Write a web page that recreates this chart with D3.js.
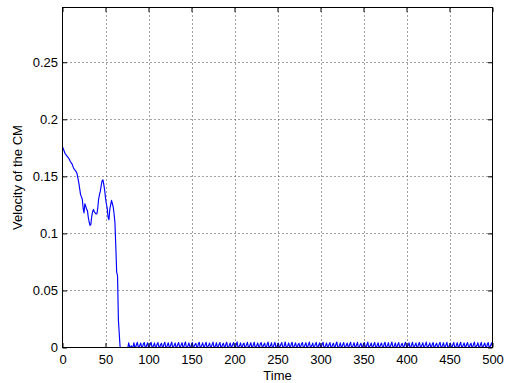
<!DOCTYPE html>
<html>
<head>
<meta charset="utf-8">
<script src="https://cdn.jsdelivr.net/npm/d3@7"></script>
<style>
  body { margin: 0; background: #fff; }
  svg { display: block; }
  text { font-family: "Liberation Sans", Arial, Helvetica, sans-serif; fill: #000; }
</style>
</head>
<body>
<svg id="chart" width="506" height="383"></svg>
<script>
// Axis ticks
const xTicks = [0, 50, 100, 150, 200, 250, 300, 350, 400, 450, 500];
const xTickLabels = ["0", "50", "100", "150", "200", "250", "300", "350", "400", "450", "500"];
const yTicks = [0, 0.05, 0.1, 0.15, 0.2, 0.25];
const yTickLabels = ["0", "0.05", "0.1", "0.15", "0.2", "0.25"];

// Sampling interval of the simulation (time units per sample)
const timeStep = 1;

// Velocity of the centre of mass, t = 0 .. 67
const startVelocity = [
  0.176, 0.174, 0.172, 0.170, 0.169, 0.168, 0.167, 0.166, 0.165, 0.163,
  0.162, 0.161, 0.159, 0.157, 0.156, 0.155, 0.154, 0.152, 0.148, 0.144,
  0.139, 0.134, 0.132, 0.130, 0.122, 0.118, 0.126, 0.124, 0.121, 0.120,
  0.114, 0.110, 0.107, 0.108, 0.115, 0.119, 0.121, 0.119, 0.118, 0.117,
  0.117, 0.122, 0.130, 0.134, 0.137, 0.142, 0.146, 0.147, 0.143, 0.138,
  0.131, 0.126, 0.122, 0.114, 0.112, 0.121, 0.125, 0.129, 0.126, 0.123,
  0.117, 0.109, 0.088, 0.066, 0.063, 0.024, 0.012, 0.000
];

// Residual velocity after settling, t = 68 .. 500, in units of 1e-3
const settledVelocityMilli = [
  0, 0, 0, 0, 0, 0, 0, 0, 0, 4.0, 0.5, 0, 1.5, 0.5, 0,
  4.2,0.4,0.1,2.6, 4.5,0.9,0.3,2.1, 3.9,0.2,0.7,3.0, 4.4,0.6,0.0,2.3, 4.1,0.3,0.5,2.7,
  4.6,0.8,0.2,1.9, 4.0,0.1,0.6,2.9, 4.3,0.5,0.0,2.4, 3.8,0.7,0.3,3.1, 4.5,0.2,0.4,2.2,
  4.1,0.6,0.1,2.8, 4.7,0.3,0.8,2.0, 3.9,0.0,0.5,2.6, 4.4,0.9,0.2,2.3, 4.2,0.4,0.6,3.0,
  4.8,0.1,0.3,1.8, 4.0,0.7,0.0,2.7, 4.3,0.2,0.9,2.5, 3.7,0.5,0.1,3.2, 4.6,0.3,0.4,2.1,
  4.1,0.8,0.2,2.9, 4.5,0.0,0.6,2.2, 3.9,0.4,0.3,2.7, 4.7,0.6,0.1,1.9, 4.2,0.2,0.7,2.6,
  4.4,0.5,0.0,2.4, 3.8,0.9,0.4,3.0, 4.6,0.1,0.2,2.0, 4.0,0.3,0.8,2.8, 4.3,0.7,0.0,2.3,
  4.9,0.2,0.5,1.7, 4.1,0.6,0.1,2.9, 3.9,0.0,0.6,2.5, 4.5,0.8,0.3,2.2, 4.2,0.4,0.0,2.7,
  4.6,0.1,0.7,2.0, 4.0,0.5,0.2,3.1, 4.4,0.9,0.4,2.4, 3.8,0.3,0.0,2.8, 4.7,0.6,0.5,1.9,
  4.2,0.0,0.3,2.6, 4.5,0.7,0.1,2.3, 3.9,0.2,0.8,2.9, 4.3,0.5,0.0,2.1, 4.8,0.4,0.6,1.8,
  4.0,0.8,0.2,3.0, 4.6,0.1,0.5,2.2, 4.1,0.6,0.0,2.7, 3.7,0.3,0.9,3.2, 4.4,0.0,0.2,2.4,
  4.2,0.5,0.4,2.5, 4.7,0.9,0.1,1.9, 3.9,0.2,0.6,2.8, 4.5,0.7,0.0,2.3, 4.1,0.3,0.5,2.9,
  4.6,0.0,0.2,2.0, 4.0,0.6,0.8,2.6, 4.3,0.4,0.1,2.4, 3.8,0.8,0.3,3.0, 4.8,0.1,0.0,1.8,
  4.1,0.5,0.7,2.7, 4.4,0.2,0.0,2.2, 3.9,0.9,0.4,2.9, 4.6,0.3,0.2,2.1, 4.2,0.6,0.5,2.5,
  4.5,0.0,0.1,2.3, 3.8,0.7,0.6,3.1, 4.3,0.4,0.0,2.6, 4.7,0.1,0.8,1.9, 4.0,0.5,0.3,2.8,
  4.4,0.8,0.2,2.2, 4.1,0.2,0.5,2.7, 3.9,0.6,0.0,3.0, 4.6,0.3,0.7,2.0, 4.2,0.0,0.4,2.4,
  4.8,0.9,0.1,1.8, 4.0,0.4,0.6,2.9, 4.3,0.1,0.0,2.5, 3.7,0.7,0.3,3.2, 4.5,0.5,0.8,2.1,
  4.1,0.2,0.0,2.6, 4.6,0.6,0.4,2.2, 3.9,0.3,0.1,2.8, 4.4,0.8,0.5,2.3, 4.2,0.0,0.7,2.7,
  4.7,0.4,0.2,1.9, 4.0,0.9,0.0,3.0, 4.3,0.1,0.6,2.4, 3.8,0.5,0.3,2.9, 4.6,0.7,0.1,2.0,
  4.2,0.3,0.8,2.5, 4.5,0.0,0.2,2.3, 3.9,0.6,0.4,2.8, 4.4,0.2,0.0,2.1, 4.1,0.8,0.5,2.7,
  4.6,0.1,0.3,2.2, 4.0,0.5,0.7,2.9, 4.3,0.9,0.0,2.4, 3.8,0.4,0.2,3.1, 4.7,0.0,0.6,1.9,
  4.2,0.6,0.1,2.6, 4.5,0.3,0.5,2.2, 3.9,0.7,0.0,2.8, 4.4,0.2,0.4,2.3, 4.1,0.5
];

const xDomain = [0, 500];
const yDomain = [0, 0.298];

const velocity = startVelocity.concat(settledVelocityMilli.map(v => v / 1000));
const series = velocity.map((v, i) => ({ t: i * timeStep, v }));

const svg = d3.select("#chart");
const plot = { left: 62.5, right: 492.5, top: 7.5, bottom: 347.5 };
const fontSize = 13;
const tickLen = 4.5;

const x = d3.scaleLinear().domain(xDomain).range([plot.left, plot.right]);
const y = d3.scaleLinear().domain(yDomain).range([plot.bottom, plot.top]);

// Dotted grid
const grid = svg.append("g")
  .attr("stroke", "#444")
  .attr("stroke-width", 1)
  .attr("stroke-dasharray", "1,3");
grid.selectAll("line.gx")
  .data(xTicks.filter(d => d > xDomain[0] && d < xDomain[1]))
  .join("line")
  .attr("x1", d => Math.round(x(d)) + 0.5).attr("x2", d => Math.round(x(d)) + 0.5)
  .attr("y1", plot.top).attr("y2", plot.bottom);
grid.selectAll("line.gy")
  .data(yTicks.filter(d => d > yDomain[0]))
  .join("line")
  .attr("y1", d => Math.round(y(d)) + 0.5).attr("y2", d => Math.round(y(d)) + 0.5)
  .attr("x1", plot.left).attr("x2", plot.right);

// Velocity trace
const line = d3.line().x(d => x(d.t)).y(d => y(d.v));
svg.append("path")
  .datum(series)
  .attr("fill", "none")
  .attr("stroke", "#0000ff")
  .attr("stroke-width", 1.15)
  .attr("stroke-linejoin", "round")
  .attr("d", line);

// Axes with inward ticks on all four sides
function styleAxis(g) {
  g.select(".domain").remove();
  g.selectAll(".tick line").attr("stroke", "#000");
  g.selectAll("text").attr("font-size", fontSize).attr("fill", "#000")
    .attr("font-family", '"Liberation Sans", Arial, sans-serif');
}

svg.append("g")
  .attr("transform", `translate(0,${plot.bottom})`)
  .call(d3.axisBottom(x).tickValues(xTicks)
    .tickFormat((d, i) => xTickLabels[i])
    .tickSizeInner(-tickLen).tickSizeOuter(0).tickPadding(7.5))
  .call(styleAxis);

svg.append("g")
  .attr("transform", `translate(0,${plot.top})`)
  .call(d3.axisTop(x).tickValues(xTicks).tickFormat(() => "")
    .tickSizeInner(-tickLen).tickSizeOuter(0))
  .call(styleAxis);

svg.append("g")
  .attr("transform", `translate(${plot.left},0)`)
  .call(d3.axisLeft(y).tickValues(yTicks)
    .tickFormat((d, i) => yTickLabels[i])
    .tickSizeInner(-tickLen).tickSizeOuter(0).tickPadding(4.5))
  .call(styleAxis);

svg.append("g")
  .attr("transform", `translate(${plot.right},0)`)
  .call(d3.axisRight(y).tickValues(yTicks).tickFormat(() => "")
    .tickSizeInner(-tickLen).tickSizeOuter(0))
  .call(styleAxis);

// Axes box
svg.append("rect")
  .attr("x", plot.left).attr("y", plot.top)
  .attr("width", plot.right - plot.left).attr("height", plot.bottom - plot.top)
  .attr("fill", "none").attr("stroke", "#000").attr("stroke-width", 1);

// Axis titles
svg.append("text")
  .attr("x", (plot.left + plot.right) / 2).attr("y", 380)
  .attr("text-anchor", "middle").attr("font-size", fontSize)
  .text("Time");

svg.append("text")
  .attr("transform", `translate(22,${(plot.top + plot.bottom) / 2}) rotate(-90)`)
  .attr("text-anchor", "middle").attr("font-size", fontSize)
  .text("Velocity of the CM");
</script>
</body>
</html>
